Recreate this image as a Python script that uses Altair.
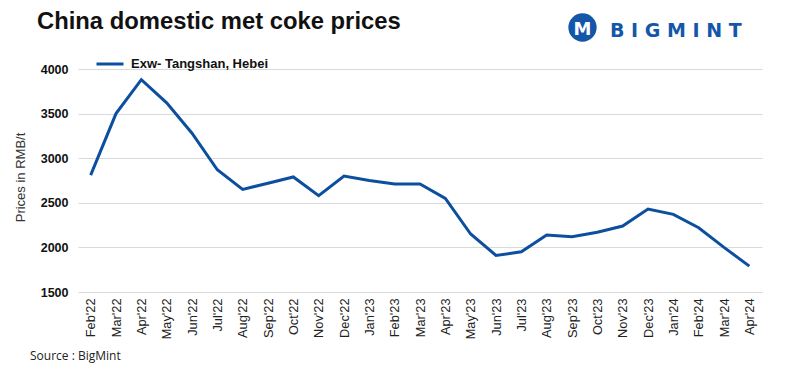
import altair as alt
import pandas as pd

months = ["Feb'22", "Mar'22", "Apr'22", "May'22", "Jun'22", "Jul'22", "Aug'22", "Sep'22",
          "Oct'22", "Nov'22", "Dec'22", "Jan'23", "Feb'23", "Mar'23", "Apr'23", "May'23",
          "Jun'23", "Jul'23", "Aug'23", "Sep'23", "Oct'23", "Nov'23", "Dec'23", "Jan'24",
          "Feb'24", "Mar'24", "Apr'24"]
prices = [2810, 3500, 3880, 3620, 3280, 2870, 2650, 2720,
          2790, 2580, 2800, 2750, 2710, 2710, 2550, 2150,
          1910, 1950, 2140, 2120, 2170, 2240, 2430, 2370,
          2220, 2000, 1790]
series_name = "Exw- Tangshan, Hebei"
y_ticks = [1500, 2000, 2500, 3000, 3500, 4000]

title_text = "China domestic met coke prices"
source_text = "Source : BigMint"
logo_text = "B I G M I N T"

BLUE = "#0b4f9e"
LOGO = "#1457a8"
PX0, PY0 = 78, 69  # plot origin on page

df = pd.DataFrame({"month": months, "price": prices, "series": series_name})

line = alt.Chart(df).mark_line(strokeWidth=3, color=BLUE).encode(
    x=alt.X("month:N", sort=months, title=None,
            scale=alt.Scale(type="point", padding=0.5),
            axis=alt.Axis(labelAngle=-90, labelAlign="right", labelBaseline="middle",
                          labelPadding=6, ticks=False, domain=False, grid=False,
                          labelFont="Liberation Sans", labelFontSize=12.8,
                          labelColor="#222222")),
    y=alt.Y("price:Q", title="Prices in RMB/t",
            scale=alt.Scale(domain=[1500, 4000], nice=False, zero=False),
            axis=alt.Axis(values=y_ticks, format="d", ticks=False, domain=False, grid=True,
                          gridColor="#d9d9d9", gridWidth=1,
                          labelFont="Liberation Sans", labelFontSize=12.5,
                          labelFontWeight="bold", labelColor="#111111", labelPadding=10,
                          titleFont="Liberation Sans", titleFontSize=13,
                          titleFontWeight="normal", titleColor="#333333",
                          titleAngle=-90, titleX=20 - PX0, titleY=108,
                          titleAlign="center", titleBaseline="middle")),
    color=alt.Color("series:N", scale=alt.Scale(range=[BLUE]),
                    legend=alt.Legend(title=None, orient="none", legendX=17, legendY=-20,
                                      symbolType="stroke", symbolSize=729,
                                      symbolStrokeWidth=3, symbolStrokeColor=BLUE,
                                      labelFont="Liberation Sans", labelFontSize=13,
                                      labelFontWeight="bold", labelColor="#111111",
                                      labelOffset=6, padding=0))
)

title = alt.Chart(pd.DataFrame({"t": [title_text]})).mark_text(
    font="Liberation Sans", fontSize=23.8, fontWeight="bold", color="#111111",
    align="left", baseline="alphabetic"
).encode(text="t:N", x=alt.value(37 - PX0), y=alt.value(29 - PY0))

source = alt.Chart(pd.DataFrame({"t": [source_text]})).mark_text(
    font="Open Sans", fontSize=12, color="#222222", align="left", baseline="middle"
).encode(text="t:N", x=alt.value(30 - PX0), y=alt.value(356 - PY0))

logo_word = alt.Chart(pd.DataFrame({"t": [logo_text]})).mark_text(
    font="DejaVu Sans", fontSize=19, fontWeight="bold", color=LOGO,
    align="left", baseline="alphabetic"
).encode(text="t:N", x=alt.value(610 - PX0), y=alt.value(37 - PY0))

logo_circle = alt.Chart(pd.DataFrame({"t": [1]})).mark_point(
    shape="circle", filled=True, color=LOGO, opacity=1, size=800
).encode(x=alt.value(582.5 - PX0), y=alt.value(27.5 - PY0))

logo_heads = alt.Chart(pd.DataFrame({"t": [1]})).mark_text(
    text="M", font="DejaVu Sans", fontSize=18, fontWeight="bold", color="white",
    align="center", baseline="middle"
).encode(x=alt.value(582.5 - PX0), y=alt.value(30 - PY0))

chart = alt.layer(line, title, source, logo_circle, logo_heads, logo_word).properties(
    width=684, height=223,
    autosize=alt.AutoSizeParams(type="none"),
    padding={"left": PX0 - 8, "top": PY0 - 8, "right": 15, "bottom": 76},
    background="white",
).configure_view(stroke=None)

chart.save("out.html", embed_options={"renderer": "svg", "actions": False})
